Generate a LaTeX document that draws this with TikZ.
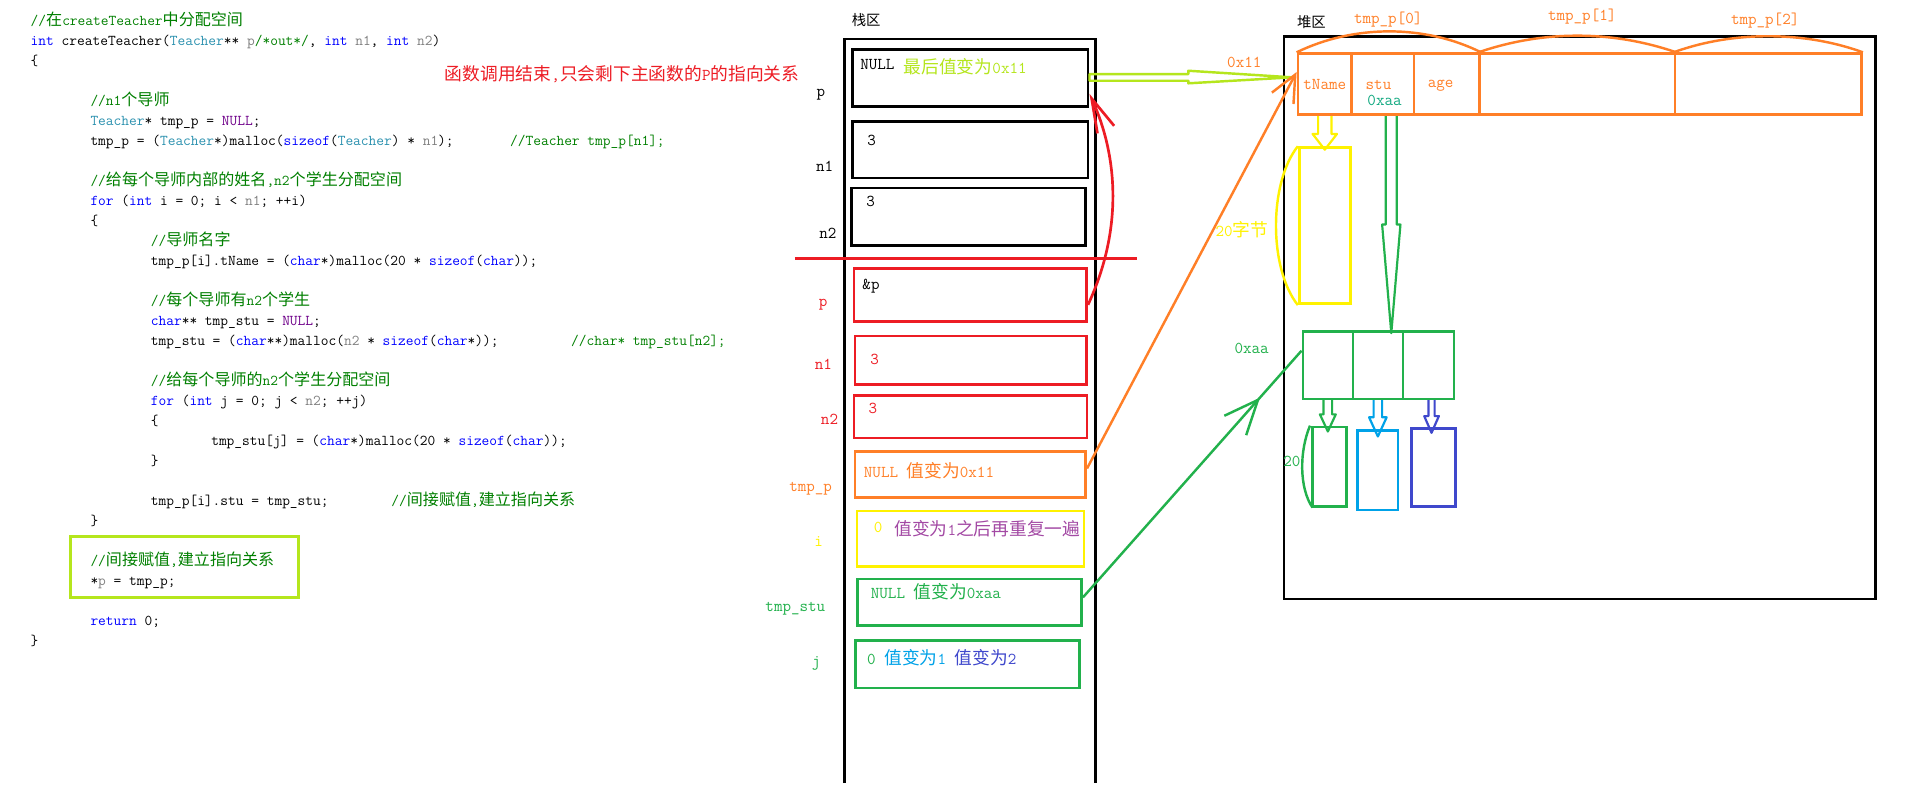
\documentclass[tikz,border=0pt]{standalone}
\usepackage{fontspec}
\usepackage{tikz}
\usetikzlibrary{arrows.meta, decorations.markings}

\newfontfamily\cjk[Scale=1.07]{Noto Sans CJK SC}
\newcommand{\zh}[1]{{\cjk #1}}

% code colours
\definecolor{vskw}{RGB}{0,0,255}
\definecolor{vsty}{RGB}{43,145,175}
\definecolor{vscm}{RGB}{0,128,0}
\definecolor{vsmc}{RGB}{111,0,138}
\definecolor{vspa}{RGB}{128,128,128}
\newcommand{\kw}[1]{\textcolor{vskw}{#1}}
\newcommand{\ty}[1]{\textcolor{vsty}{#1}}
\newcommand{\cm}[1]{\textcolor{vscm}{#1}}
\newcommand{\mc}[1]{\textcolor{vsmc}{#1}}
\newcommand{\pa}[1]{\textcolor{vspa}{#1}}

% paint colours
\definecolor{pred}{RGB}{237,28,36}
\definecolor{porange}{RGB}{255,127,39}
\definecolor{pyellow}{RGB}{255,242,0}
\definecolor{pgreen}{RGB}{34,177,76}
\definecolor{pblue}{RGB}{0,162,232}
\definecolor{pindigo}{RGB}{63,72,204}
\definecolor{ppurple}{RGB}{163,73,164}
\definecolor{plime}{RGB}{181,230,29}
\definecolor{pteal}{RGB}{20,170,130}

\newcommand{\codefont}{\ttfamily\fontsize{12.3}{16.4}\selectfont}
\newcommand{\dfont}{\ttfamily\fontsize{13.6}{16}\selectfont}

% hollow arrow pointing down: colour, top, shaft half width, head half width, shaft length, head length
\newcommand{\hollowdown}[6]{%
  \draw[#1, line width=1.8pt, line join=round] #2 ++(-#3,0) -- ++(0,#5) -- ++(#3-#4,0)
    -- ++(#4,#6) -- ++(#4,-#6) -- ++(#3-#4,0) -- ++(0,-#5);}

\begin{document}
\begin{tikzpicture}[x=1pt, y=-1pt,
    every node/.style={inner sep=0pt, font=\dfont},
    box/.style={draw, line width=2.2pt},
    code/.style={anchor=base west, font=\codefont},
    txt/.style={anchor=west}]
  \fill[white] (0,0) rectangle (1569,663);
  \useasboundingbox (0,0) rectangle (1569,663);

  % code
  \node[code] (code1) at (25,20.9) {\cm{//\zh{在}createTeacher\zh{中分配空间}}};
  \node[code] (code2) at (25,37.3) {\kw{int} createTeacher(\ty{Teacher}** \pa{p}\cm{/*out*/}, \kw{int} \pa{n1}, \kw{int} \pa{n2})};
  \node[code] (code3) at (25,53.7) {\{};
  \node[code] (code5) at (74,86.5) {\cm{//n1\zh{个导师}}};
  \node[code] (code6) at (74,102.9) {\ty{Teacher}* tmp\_p = \mc{NULL};};
  \node[code] (code7) at (74,119.3) {tmp\_p = (\ty{Teacher}*)malloc(\kw{sizeof}(\ty{Teacher}) * \pa{n1});};
  \node[code] (code7c) at (418,119.3) {\cm{//Teacher tmp\_p[n1];}};
  \node[code] (code9) at (74,152.1) {\cm{//\zh{给每个导师内部的姓名},n2\zh{个学生分配空间}}};
  \node[code] (code10) at (74,168.5) {\kw{for} (\kw{int} i = 0; i < \pa{n1}; ++i)};
  \node[code] (code11) at (74,184.9) {\{};
  \node[code] (code12) at (123.5,201.3) {\cm{//\zh{导师名字}}};
  \node[code] (code13) at (123.5,217.7) {tmp\_p[i].tName = (\kw{char}*)malloc(20 * \kw{sizeof}(\kw{char}));};
  \node[code] (code15) at (123.5,250.5) {\cm{//\zh{每个导师有}n2\zh{个学生}}};
  \node[code] (code16) at (123.5,266.9) {\kw{char}** tmp\_stu = \mc{NULL};};
  \node[code] (code17) at (123.5,283.3) {tmp\_stu = (\kw{char}**)malloc(\pa{n2} * \kw{sizeof}(\kw{char}*));};
  \node[code] (code17c) at (468,283.3) {\cm{//char* tmp\_stu[n2];}};
  \node[code] (code19) at (123.5,316.1) {\cm{//\zh{给每个导师的}n2\zh{个学生分配空间}}};
  \node[code] (code20) at (123.5,332.5) {\kw{for} (\kw{int} j = 0; j < \pa{n2}; ++j)};
  \node[code] (code21) at (123.5,348.9) {\{};
  \node[code] (code22) at (173,365.3) {tmp\_stu[j] = (\kw{char}*)malloc(20 * \kw{sizeof}(\kw{char}));};
  \node[code] (code23) at (123.5,381.7) {\}};
  \node[code] (code25) at (123.5,414.5) {tmp\_p[i].stu = tmp\_stu;};
  \node[code] (code25c) at (320.7,414.5) {\cm{//\zh{间接赋值},\zh{建立指向关系}}};
  \node[code] (code26) at (74,430.9) {\}};
  \node[code] (code28) at (74,463.7) {\cm{//\zh{间接赋值},\zh{建立指向关系}}};
  \node[code] (code29) at (74,480.1) {*\pa{p} = tmp\_p;};
  \node[code] (code31) at (74,512.9) {\kw{return} 0;};
  \node[code] (code32) at (25,529.3) {\}};
  \node[box, draw=plime, line width=2.6pt, minimum width=187pt, minimum height=50pt] (assignBox) at (151.45,465) {};
  \node[text=pred] (note) at (510,60.7) {\zh{函数调用结束},\zh{只会剩下主函数的}P\zh{的指向关系}};

  % stack
  \node (stackTitle) at (710,16.4) {\fontsize{11}{12}\selectfont\zh{栈区}};
  \draw[line width=2.2pt] (692,642) -- (692,32) -- (898,32) -- (898,642);
  \node[box, minimum width=193pt, minimum height=47pt] (cP) at (795.5,63.9) {};
  \node[box, minimum width=193pt, minimum height=46.5pt] (cN1) at (795.5,122.75) {};
  \node[box, minimum width=192pt, minimum height=47pt] (cN2) at (794,177.5) {};
  \draw[pred, line width=2.2pt] (651.6,212) -- (931.8,212);
  \node[box, draw=pred, minimum width=190.8pt, minimum height=43.7pt] (fP) at (795.4,241.85) {};
  \node[box, draw=pred, minimum width=189.8pt, minimum height=39.6pt] (fN1) at (795.9,295.2) {};
  \node[box, draw=pred, minimum width=191pt, minimum height=35pt] (fN2) at (795.5,341.5) {};
  \node[box, draw=porange, minimum width=189pt, minimum height=38pt] (cTmpP) at (795.5,389) {};
  \node[box, draw=pyellow, minimum width=186pt, minimum height=45.5pt] (cI) at (795.6,441.75) {};
  \node[box, draw=pgreen, minimum width=184pt, minimum height=38.2pt] (cTmpStu) at (794.65,493.7) {};
  \node[box, draw=pgreen, minimum width=183.6pt, minimum height=39pt] (cJ) at (793.2,544.5) {};

  \node (lP) at (673,78) {p};
  \node (lN1) at (676,136.6) {n1};
  \node (lN2) at (678.6,191) {n2};
  \node[text=pred] (lfP) at (674.7,250) {p};
  \node[text=pred] (lfN1) at (675,299) {n1};
  \node[text=pred] (lfN2) at (680,343.5) {n2};
  \node[text=porange] (lTmpP) at (664.5,401) {tmp\_p};
  \node[text=pyellow] (lI) at (671,444) {i};
  \node[text=pgreen] (lTmpStu) at (652,499) {tmp\_stu};
  \node[text=pgreen] (lJ) at (669,543.6) {j};

  \node[txt] (tP) at (705,53) {NULL};
  \node[txt, text=plime] (tP2) at (740.6,55) {\zh{最后值变为}0x11};
  \node (tN1) at (714.6,114.8) {3};
  \node (tN2) at (713.7,165) {3};
  \node (tfP) at (714,235) {\&p};
  \node[text=pred] (tfN1) at (717,295) {3};
  \node[text=pred] (tfN2) at (715.6,334.6) {3};
  \node[txt, text=porange] (tTmpP) at (708,385.8) {NULL \zh{值变为}0x11};
  \node[text=pyellow] (tI0) at (719.8,432) {0};
  \node[txt, text=ppurple] (tI1) at (733,433) {\zh{值变为}1\zh{之后再重复一遍}};
  \node[txt, text=pgreen] (tTmpStu) at (713.7,485) {NULL \zh{值变为}0xaa};
  \node[txt] (tJ) at (710.7,539) {\textcolor{pgreen}{0} \textcolor{pblue}{\zh{值变为}1} \textcolor{pindigo}{\zh{值变为}2}};

  % heap
  \node (heapTitle) at (1075,17.8) {\fontsize{11}{12}\selectfont\zh{堆区}};
  \draw[line width=2.2pt] (1052.5,30) rectangle (1537.5,491);
  \node[box, draw=porange, minimum width=44pt, minimum height=50pt, text=porange] (tName) at (1086,69) {tName};
  \node[box, draw=porange, minimum width=51pt, minimum height=50pt] (stu) at (1133.5,69) {};
  \node[box, draw=porange, minimum width=54pt, minimum height=50pt] (age) at (1186,69) {};
  \node[box, draw=porange, minimum width=160pt, minimum height=50pt] (t1) at (1293,69) {};
  \node[box, draw=porange, minimum width=153pt, minimum height=50pt] (t2) at (1449.5,69) {};
  \node[text=porange] (tStu) at (1130,70) {stu};
  \node[text=pteal] (tStuAddr) at (1135,82) {0xaa};
  \node[text=porange] (tAge) at (1181,70) {age};
  \draw[porange, line width=2pt] (tName.north west) .. controls (1110,20) and (1168,20) .. (age.north east);
  \draw[porange, line width=2pt] (t1.north west) .. controls (1265,24.7) and (1321,24.7) .. (t1.north east);
  \draw[porange, line width=2pt] (t2.north west) .. controls (1420,25.3) and (1479,25.3) .. (t2.north east);
  \node[text=porange] (l0) at (1138,16.4) {tmp\_p[0]};
  \node[text=porange] (l1) at (1297,14) {tmp\_p[1]};
  \node[text=porange] (l2) at (1447,17) {tmp\_p[2]};

  \hollowdown{pyellow}{(tName.south)}{5.5}{10}{14.7}{12.9}
  \node[box, draw=pyellow, minimum width=42pt, minimum height=128pt] (nameBuf) at (1086,185) {};
  \draw[pyellow, line width=2pt] (nameBuf.north west) .. controls (1040,150) and (1040,220) .. (nameBuf.south west);
  \node[text=pyellow] (lNameLen) at (1018,188) {20\zh{字节}};

  \hollowdown{pgreen}{([xshift=7pt]stu.south)}{4.5}{7.5}{89}{89}
  \node[box, draw=pgreen, minimum width=41pt, minimum height=55pt] (s0) at (1088.5,299.5) {};
  \node[box, draw=pgreen, minimum width=41pt, minimum height=55pt] (s1) at (1129.5,299.5) {};
  \node[box, draw=pgreen, minimum width=42pt, minimum height=55pt] (s2) at (1171,299.5) {};
  \node[text=pgreen] (lStuAddr) at (1026,285.6) {0xaa};

  \hollowdown{pgreen}{(s0.south)}{3.5}{6.5}{11.6}{14}
  \hollowdown{pblue}{(s1.south)}{3.5}{7.2}{14}{15.7}
  \hollowdown{pindigo}{([xshift=2.5pt]s2.south)}{2.5}{6}{13}{13.7}
  \node[box, draw=pgreen, minimum width=28pt, minimum height=65pt] (b0) at (1090,382.5) {};
  \node[box, draw=pblue, minimum width=33pt, minimum height=65pt] (b1) at (1129.5,385.5) {};
  \node[box, draw=pindigo, minimum width=36pt, minimum height=64pt] (b2) at (1175,383) {};
  \draw[pgreen, line width=2pt] ([xshift=-1pt]b0.north west) .. controls (1065,370) and (1065,400) .. ([xshift=1pt]b0.south west);
  \node[text=pgreen] (lStuLen) at (1059,378.4) {20};

  % pointers
  \draw[plime, line width=2pt, line join=round] (cP.east) ++(0,-3.2) -- ++(81,0) -- ++(0,-2.7) -- ++(85,5.4)
    -- ++(-85,4.9) -- ++(0,-2.1) -- ++(-81,0) -- cycle;
  \node[text=porange] (lStructAddr) at (1020,51) {0x11};
  \draw[porange, line width=2pt, -{Straight Barb[length=22pt, width=20pt]}] ([yshift=5pt]cTmpP.east) -- ([yshift=10pt]tName.west);
  \draw[pred, line width=2.2pt, -{Straight Barb[length=28pt, width=15pt]}] ([yshift=-8pt]fP.east) .. controls (922,185) and (915,125) .. ([yshift=-13pt]cP.east);
  \draw[pgreen, line width=2pt, postaction={decorate},
    decoration={markings, mark=at position 0.81 with {\arrow{Straight Barb[length=28pt, width=24pt]}}}]
    ([yshift=4pt]cTmpStu.east) -- ([yshift=12pt]s0.west);
\end{tikzpicture}
\end{document}
